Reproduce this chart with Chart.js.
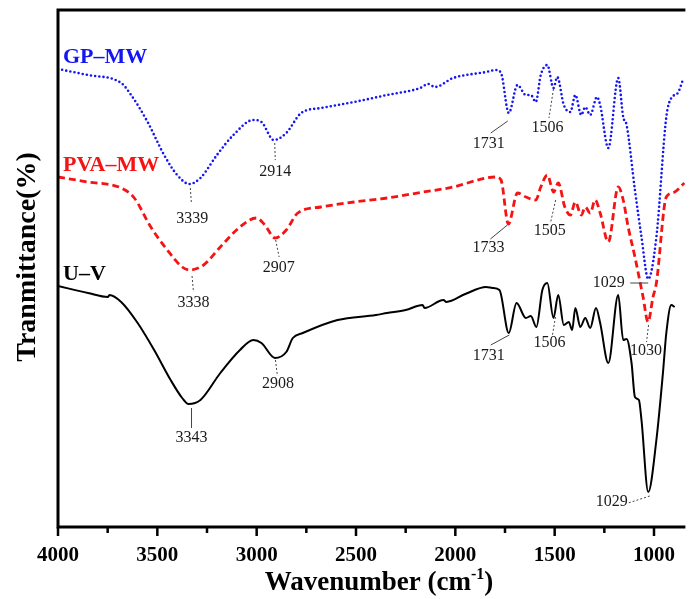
<!DOCTYPE html>
<html>
<head>
<meta charset="utf-8">
<title>FTIR spectra</title>
<script src="https://cdn.jsdelivr.net/npm/chart.js@4.4.1/dist/chart.umd.min.js"></script>
<style>
  html, body { margin: 0; padding: 0; background: #fff; overflow: hidden; }
  #wrap { width: 691px; height: 599px; position: relative; }
</style>
</head>
<body>
<div id="wrap"><canvas id="ftir-chart"></canvas></div>
<script>
// Wavenumber axis (cm-1), drawn high -> low
const xTicks = [4000, 3500, 3000, 2500, 2000, 1500, 1000];
const xMinorTicks = [3750, 3250, 2750, 2250, 1750, 1250];

// GP-MW spectrum (offset transmittance units)
const gpWavenumber = [4000, 3850, 3682, 3632, 3549, 3466, 3400, 3339, 3283, 3200,
    3117, 3017, 2976, 2914, 2851, 2776, 2676, 2510, 2344, 2177,
    2136, 2103, 2011, 1845, 1795, 1770, 1731, 1687, 1645, 1620,
    1595, 1570, 1537, 1506, 1487, 1454, 1421, 1396, 1366, 1346,
    1321, 1287, 1271, 1230, 1180, 1155, 1138, 1096, 1063, 1029,
    988, 938, 913, 880, 855];
const gpTransmittance = [458, 452, 444, 432, 405, 372, 352, 343, 349, 372,
    392, 407, 405, 387, 394, 414, 419, 425, 432, 439,
    443, 440, 449, 455, 457, 454, 414, 442, 432, 432,
    425, 452, 462, 439, 450, 422, 415, 432, 412, 420,
    412, 430, 422, 379, 449, 410, 402, 337, 290, 248,
    290, 410, 429, 434, 447];

// PVA-MW spectrum
const pvaWavenumber = [4000, 3849, 3682, 3616, 3533, 3450, 3375, 3338, 3267, 3183,
    3084, 3001, 2959, 2907, 2851, 2793, 2676, 2510, 2344, 2160,
    2011, 1845, 1795, 1770, 1733, 1687, 1645, 1595, 1570, 1537,
    1505, 1482, 1449, 1421, 1396, 1366, 1346, 1321, 1296, 1271,
    1230, 1180, 1155, 1130, 1096, 1055, 1030, 1005, 988, 938,
    905, 847];
const pvaTransmittance = [350, 345, 339, 329, 300, 277, 260, 257, 262, 280,
    300, 309, 302, 289, 297, 314, 320, 325, 329, 335,
    340, 349, 350, 347, 303, 334, 330, 327, 340, 352,
    335, 344, 320, 312, 325, 312, 320, 314, 327, 314,
    285, 340, 327, 300, 270, 230, 205, 230, 244, 330,
    334, 344];

// U-V spectrum
const uvWavenumber = [4000, 3849, 3749, 3741, 3682, 3599, 3516, 3433, 3375, 3343,
    3283, 3183, 3084, 3017, 2976, 2908, 2851, 2818, 2768, 2593,
    2400, 2344, 2250, 2165, 2155, 2060, 2045, 1950, 1845, 1812,
    1778, 1731, 1692, 1645, 1620, 1592, 1562, 1537, 1506, 1482,
    1454, 1429, 1412, 1396, 1371, 1346, 1321, 1292, 1271, 1230,
    1180, 1155, 1138, 1113, 1096, 1076, 1063, 1029, 988, 955,
    938, 913, 896];
const uvTransmittance = [241, 234, 230, 232, 225, 204, 177, 147, 129, 123,
    127, 154, 177, 187, 184, 169, 175, 189, 194, 207,
    212, 214, 217, 222, 219, 227, 225, 233, 240, 239,
    237, 194, 224, 209, 211, 200, 237, 244, 209, 232,
    202, 205, 197, 219, 200, 209, 199, 219, 204, 164,
    232, 187, 188, 164, 130, 127, 107, 35, 87, 154,
    194, 222, 220];

const seriesNames = ['GP\u2013MW', 'PVA\u2013MW', 'U\u2013V'];

// marked band positions on each spectrum
const gpPeaks = [3339, 2914, 1731, 1506, 1029];
const pvaPeaks = [3338, 2907, 1733, 1505, 1030];
const uvPeaks = [3343, 2908, 1731, 1506, 1029];

// callout geometry relative to the marked point:
// [leader start dx, dy, leader end dx, dy, label dx, dy, dashed]
const gpCallouts = [
    [1, 4, 2, 18, 3, 35, true],
    [1, 3, 1.5, 20, 1.5, 32, true],
    [-1, 8, -18, 20, -20, 30.5, false],
    [0, 1, -4.5, 30, -6, 40, true],
    [-18, 4, 0, 4, -39.5, 3.5, false]
];
const pvaCallouts = [
    [2.5, 6, 4, 22, 4, 33, true],
    [0.5, 2, 4, 19, 3.5, 29.5, true],
    [-1, 1, -18, 15, -20, 24, false],
    [2, 8, -3, 30, -4, 39, true],
    [0.5, 3, -1.5, 20, -2, 29, true]
];
const uvCallouts = [
    [3, 4, 3, 24, 3, 34, false],
    [0.5, 2, 2.5, 18, 3, 26, true],
    [0.5, 2, -18, 12, -20, 23, false],
    [2, -1, -1, 17, -4, 24.5, true],
    [1.5, 4, -20, 11, -36.5, 10, true]
];

const peakSets = [gpPeaks, pvaPeaks, uvPeaks];
const calloutSets = [gpCallouts, pvaCallouts, uvCallouts];
const nameColors = ['#1414f5', '#f51414', '#000000'];

const SERIF = '"Liberation Serif", "Times New Roman", serif';

function toPoints(xs, ys) {
    return xs.map((v, i) => ({ x: v, y: ys[i] }));
}

// frame, tick marks, axis titles, series names and band callouts
const spectrumDecor = {
    id: 'spectrumDecor',
    afterDraw(chart) {
        const { ctx, chartArea: a, scales: { x, y } } = chart;
        ctx.save();

        // band callouts
        ctx.font = '16px ' + SERIF;
        ctx.textAlign = 'center';
        ctx.textBaseline = 'middle';
        chart.data.datasets.forEach((ds, i) => {
            peakSets[i].forEach((wn, j) => {
                const pt = ds.data.find(p => p.x === wn);
                if (!pt) return;
                const px = x.getPixelForValue(wn);
                const py = y.getPixelForValue(pt.y);
                const c = calloutSets[i][j];
                ctx.strokeStyle = '#444';
                ctx.lineWidth = 1;
                ctx.setLineDash(c[6] ? [2, 2] : []);
                ctx.beginPath();
                ctx.moveTo(px + c[0], py + c[1]);
                ctx.lineTo(px + c[2], py + c[3]);
                ctx.stroke();
                ctx.fillStyle = '#1a1a1a';
                ctx.fillText(String(wn), px + c[4], py + c[5]);
            });
        });
        ctx.setLineDash([]);

        // series names above the start of each trace
        ctx.font = 'bold 22px ' + SERIF;
        ctx.textAlign = 'left';
        ctx.textBaseline = 'alphabetic';
        chart.data.datasets.forEach((ds, i) => {
            const first = chart.getDatasetMeta(i).data[0];
            ctx.fillStyle = nameColors[i];
            ctx.fillText(seriesNames[i], a.left + 5, first.y - 6);
        });

        // frame: left, top and bottom edges
        ctx.strokeStyle = '#000';
        ctx.lineWidth = 3;
        ctx.beginPath();
        ctx.moveTo(a.right, a.top);
        ctx.lineTo(a.left, a.top);
        ctx.lineTo(a.left, a.bottom);
        ctx.lineTo(a.right, a.bottom);
        ctx.stroke();

        // tick marks below the axis
        ctx.lineWidth = 2.5;
        ctx.beginPath();
        xTicks.forEach(v => {
            const px = x.getPixelForValue(v);
            ctx.moveTo(px, a.bottom);
            ctx.lineTo(px, a.bottom + 9);
        });
        xMinorTicks.forEach(v => {
            const px = x.getPixelForValue(v);
            ctx.moveTo(px, a.bottom);
            ctx.lineTo(px, a.bottom + 6);
        });
        ctx.stroke();

        // x title with superscript
        ctx.fillStyle = '#000';
        const main = 'Wavenumber (cm';
        const sup = '-1';
        const close = ')';
        ctx.font = 'bold 27px ' + SERIF;
        const w1 = ctx.measureText(main).width;
        const w3 = ctx.measureText(close).width;
        ctx.font = 'bold 16px ' + SERIF;
        const w2 = ctx.measureText(sup).width;
        let tx = 379 - (w1 + w2 + w3) / 2;
        const base = 590;
        ctx.font = 'bold 27px ' + SERIF;
        ctx.fillText(main, tx, base);
        tx += w1;
        ctx.font = 'bold 16px ' + SERIF;
        ctx.fillText(sup, tx, base - 11);
        tx += w2;
        ctx.font = 'bold 27px ' + SERIF;
        ctx.fillText(close, tx, base);

        // y title
        ctx.translate(28, 257);
        ctx.rotate(-Math.PI / 2);
        ctx.textAlign = 'center';
        ctx.textBaseline = 'middle';
        ctx.font = 'bold 28px ' + SERIF;
        ctx.fillText('Tranmittance(%)', 0, 0);

        ctx.restore();
    }
};

new Chart(document.getElementById('ftir-chart'), {
    type: 'line',
    data: {
        datasets: [{
            label: seriesNames[0],
            data: toPoints(gpWavenumber, gpTransmittance),
            borderColor: '#1414f5',
            borderWidth: 2.6,
            borderDash: [0, 4.2],
            borderCapStyle: 'round',
            pointRadius: 0,
            cubicInterpolationMode: 'monotone'
        }, {
            label: seriesNames[1],
            data: toPoints(pvaWavenumber, pvaTransmittance),
            borderColor: '#f51414',
            borderWidth: 2.8,
            borderDash: [7, 4],
            pointRadius: 0,
            cubicInterpolationMode: 'monotone'
        }, {
            label: seriesNames[2],
            data: toPoints(uvWavenumber, uvTransmittance),
            borderColor: '#000000',
            borderWidth: 2,
            pointRadius: 0,
            cubicInterpolationMode: 'monotone'
        }]
    },
    options: {
        responsive: true,
        maintainAspectRatio: false,
        animation: false,
        layout: {
            padding: { left: 58, top: 10, right: 0, bottom: 0 }
        },
        plugins: {
            legend: { display: false },
            tooltip: { enabled: false }
        },
        scales: {
            x: {
                type: 'linear',
                reverse: true,
                min: 842,
                max: 4000,
                afterBuildTicks: function(scale) {
                    scale.ticks = xTicks.map(v => ({ value: v }));
                },
                afterFit: function(scale) {
                    scale.height = 72;
                },
                grid: { display: false, drawTicks: false },
                border: { display: false },
                ticks: {
                    padding: 16,
                    color: '#000',
                    maxRotation: 0,
                    autoSkip: false,
                    font: { family: SERIF, size: 21, weight: 'bold' },
                    callback: function(value) {
                        return String(value);
                    }
                }
            },
            y: {
                display: false,
                min: 0,
                max: 517
            }
        }
    },
    plugins: [spectrumDecor]
});
</script>
</body>
</html>
